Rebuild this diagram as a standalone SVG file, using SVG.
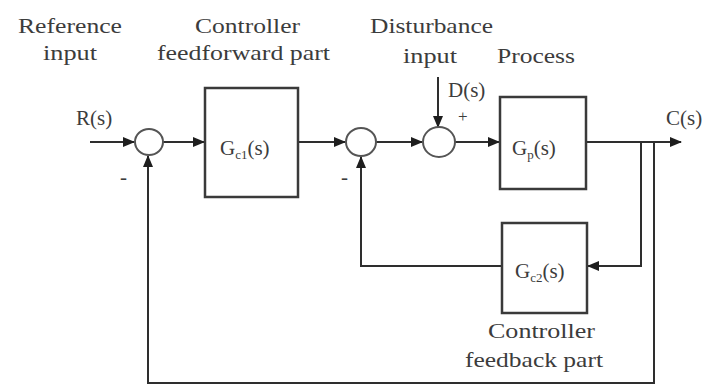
<svg xmlns="http://www.w3.org/2000/svg" width="712" height="385" viewBox="0 0 712 385">
<style>
.t{font-family:'Liberation Serif';font-size:21px;fill:#3c3c3c}
.sub{font-size:13px}
.ln{fill:none;stroke:#2e2e2e;stroke-width:2}
.bx{fill:#fff;stroke:#3a3a3a;stroke-width:2.5}
.sm{fill:#fff;stroke:#555;stroke-width:2}
</style>
<defs>
<marker id="ah" markerUnits="userSpaceOnUse" markerWidth="12" markerHeight="10" refX="11" refY="5" orient="auto">
<path d="M0,0 L12,5 L0,10 z" fill="#1e1e1e"/>
</marker>
</defs>
<rect width="712" height="385" fill="#fff"/>
<g id="connectors">
<line class="ln" x1="90" y1="142" x2="134" y2="142" marker-end="url(#ah)"/>
<line class="ln" x1="163" y1="142" x2="204" y2="142" marker-end="url(#ah)"/>
<line class="ln" x1="298" y1="142" x2="345" y2="142" marker-end="url(#ah)"/>
<line class="ln" x1="376" y1="142" x2="422" y2="142" marker-end="url(#ah)"/>
<line class="ln" x1="455" y1="142" x2="499" y2="142" marker-end="url(#ah)"/>
<line class="ln" x1="586" y1="142" x2="681" y2="142" marker-end="url(#ah)"/>
<line class="ln" x1="438" y1="77" x2="438" y2="127" marker-end="url(#ah)"/>
<polyline class="ln" points="641,142 641,266 588,266" marker-end="url(#ah)"/>
<polyline class="ln" points="502,266 361,266 361,157" marker-end="url(#ah)"/>
<polyline class="ln" points="654,142 654,383 148,383 148,156" marker-end="url(#ah)"/>
</g>
<g id="sum1"><ellipse class="sm" cx="149" cy="142" rx="14" ry="13"/></g>
<g id="sum2"><ellipse class="sm" cx="361" cy="142" rx="15" ry="14"/></g>
<g id="sum3"><ellipse class="sm" cx="439" cy="142" rx="16" ry="15"/></g>
<g id="gc1">
<rect class="bx" x="205" y="88" width="93" height="109"/>
<text class="t" font-family="Liberation Serif" x="220" y="155">G<tspan class="sub" dy="4">c1</tspan><tspan dy="-4">(s)</tspan></text>
</g>
<g id="gp">
<rect class="bx" x="500" y="97" width="86" height="92"/>
<text class="t" font-family="Liberation Serif" x="512" y="155">G<tspan class="sub" dy="4">p</tspan><tspan dy="-4">(s)</tspan></text>
</g>
<g id="gc2">
<rect class="bx" x="502" y="223" width="85" height="90"/>
<text class="t" font-family="Liberation Serif" x="515" y="278">G<tspan class="sub" dy="4">c2</tspan><tspan dy="-4">(s)</tspan></text>
</g>
<g id="labels">
<text class="t" x="18" y="33" textLength="104" lengthAdjust="spacingAndGlyphs">Reference</text>
<text class="t" x="43" y="60" textLength="54" lengthAdjust="spacingAndGlyphs">input</text>
<text class="t" x="195" y="33" textLength="105" lengthAdjust="spacingAndGlyphs">Controller</text>
<text class="t" x="157" y="60" textLength="173" lengthAdjust="spacingAndGlyphs">feedforward part</text>
<text class="t" x="370" y="33" textLength="123" lengthAdjust="spacingAndGlyphs">Disturbance</text>
<text class="t" x="403" y="63" textLength="54" lengthAdjust="spacingAndGlyphs">input</text>
<text class="t" x="497" y="63" textLength="78" lengthAdjust="spacingAndGlyphs">Process</text>
<text class="t" x="76" y="125">R(s)</text>
<text class="t" x="448" y="97">D(s)</text>
<text class="t" x="666" y="125">C(s)</text>
<text class="t" x="458" y="122" style="font-size:17px">+</text>
<text class="t" x="120" y="184">-</text>
<text class="t" x="341" y="184">-</text>
<text class="t" x="488" y="338" textLength="107" lengthAdjust="spacingAndGlyphs">Controller</text>
<text class="t" x="465" y="367" textLength="138" lengthAdjust="spacingAndGlyphs">feedback part</text>
</g>
</svg>
